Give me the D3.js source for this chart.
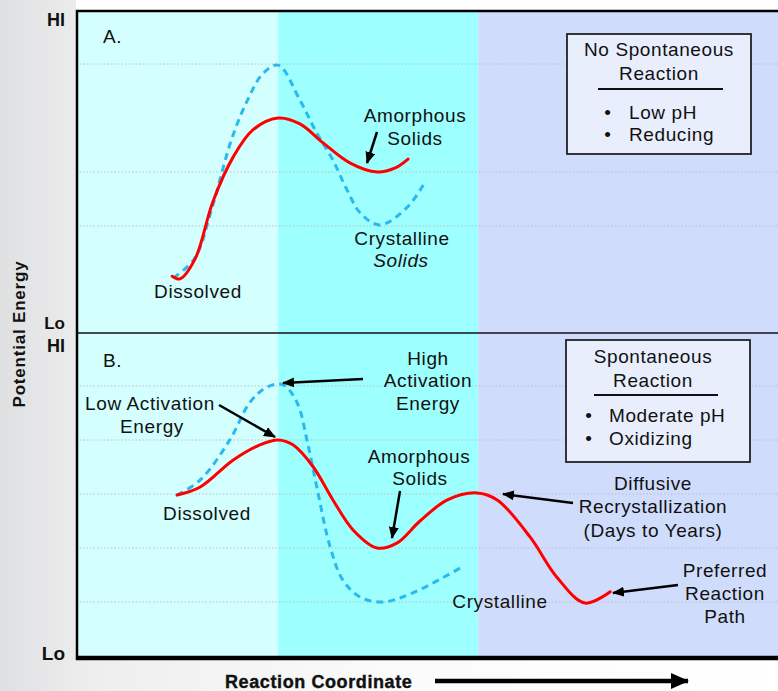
<!DOCTYPE html>
<html><head><meta charset="utf-8">
<script src="https://cdn.jsdelivr.net/npm/d3@7"></script>
<style>body{margin:0;background:#fff}svg{display:block}text{font-family:"Liberation Sans",Arial,sans-serif;fill:#111}</style>
</head><body>
<script>
// ---------- data ----------
const zoneBounds = [0, 28.8, 57.3, 100];            // reaction coordinate (0-100)
const zoneColors = ["#d4ffff", "#9dfffe", "#d0dcfc"];
const gridA = [2, 3, 5];                             // energy levels (0 = Lo, 6 = Hi)
const gridB = [1, 2, 3, 4, 5];
const yTickLabels = ["Lo", "HI"];

// Panel A – preferred (amorphous) path, red
const redAx = [13.7, 14.8, 17.0, 19.5, 22.4, 25.2, 28.8, 31.9, 35.2, 39.0, 42.9, 45.4, 47.3];
const redAy = [1.07, 1.02, 1.40, 2.45, 3.28, 3.78, 4.0, 3.89, 3.54, 3.17, 3.0, 3.07, 3.24];
// Panel A – crystalline path, blue dashed
const blueAx = [13.9, 16.9, 19.3, 22.2, 24.5, 26.6, 28.8, 31.9, 34.3, 36.6, 38.6, 40.5, 43.3, 47.2, 49.7];
const blueAy = [1.04, 1.40, 2.30, 3.62, 4.35, 4.82, 4.98, 4.33, 3.72, 3.22, 2.67, 2.24, 2.02, 2.35, 2.81];
// Panel B – red
const redBx = [14.4, 17.7, 22.4, 26.2, 28.8, 30.9, 33.8, 36.6, 39.5, 42.9, 45.7, 49.0, 52.9, 57.1, 60.0, 64.7, 68.5, 72.5, 76.1];
const redBy = [2.98, 3.13, 3.63, 3.91, 4.0, 3.91, 3.5, 2.89, 2.33, 2.0, 2.09, 2.5, 2.89, 3.02, 2.89, 2.2, 1.46, 0.98, 1.19];
// Panel B – blue dashed
const blueBx = [14.4, 17.7, 21.9, 24.8, 27.2, 29.5, 31.5, 32.9, 34.3, 36.2, 38.0, 40.5, 43.7, 48.0, 55.0];
const blueBy = [2.98, 3.26, 4.0, 4.7, 4.98, 5.02, 4.69, 4.0, 3.13, 2.02, 1.41, 1.09, 1.0, 1.17, 1.65];

// ---------- layout ----------
const W = 778, H = 691;
const L = 76, R = 778, TOP = 10, MID = 333, BOT = 656;
const svg = d3.select("body").append("svg").attr("width", W).attr("height", H);
const defs = svg.append("defs");
const bg = defs.append("linearGradient").attr("id", "bg").attr("x1", 0).attr("x2", 1).attr("y1", 0).attr("y2", 0);
bg.append("stop").attr("offset", "0").attr("stop-color", "#dfe0e2");
bg.append("stop").attr("offset", "0.12").attr("stop-color", "#eeeeee");
bg.append("stop").attr("offset", "0.5").attr("stop-color", "#fbfbfb");
bg.append("stop").attr("offset", "1").attr("stop-color", "#ffffff");
svg.append("rect").attr("width", W).attr("height", H).attr("fill", "url(#bg)");
svg.append("rect").attr("x", L).attr("y", 0).attr("width", W - L).attr("height", TOP).attr("fill", "#fff");

defs.append("marker").attr("id", "ah").attr("viewBox", "0 0 12 10").attr("refX", 11).attr("refY", 5)
  .attr("markerWidth", 12).attr("markerHeight", 10).attr("markerUnits", "userSpaceOnUse").attr("orient", "auto")
  .append("path").attr("d", "M0,0 L12,5 L0,10 Z").attr("fill", "#000");
defs.append("marker").attr("id", "ahBig").attr("viewBox", "0 0 18 16").attr("refX", 17).attr("refY", 8)
  .attr("markerWidth", 18).attr("markerHeight", 16).attr("markerUnits", "userSpaceOnUse").attr("orient", "auto")
  .append("path").attr("d", "M0,0 L18,8 L0,16 Z").attr("fill", "#000");

const x = d3.scaleLinear().domain([0, 100]).range([L, R]);
const yA = d3.scaleLinear().domain([0, 6]).range([334, TOP]);
const yB = d3.scaleLinear().domain([0, 6]).range([BOT, BOT - 324]);

function panel(y, y0, y1, grid, rx, ry, bx, by) {
  const g = svg.append("g");
  zoneColors.forEach((c, i) => {
    g.append("rect").attr("x", x(zoneBounds[i])).attr("y", y0)
      .attr("width", x(zoneBounds[i + 1]) - x(zoneBounds[i])).attr("height", y1 - y0).attr("fill", c);
  });
  g.selectAll(".grid").data(grid).enter().append("line")
    .attr("x1", L).attr("x2", R).attr("y1", d => y(d)).attr("y2", d => y(d))
    .attr("stroke", "#b9c0c8").attr("stroke-width", 1).attr("stroke-dasharray", "1.5,2");
  const line = d3.line().x(d => x(d[0])).y(d => y(d[1])).curve(d3.curveCatmullRom.alpha(0.5));
  g.append("path").attr("d", line(d3.zip(bx, by))).attr("fill", "none")
    .attr("stroke", "#2bb8ee").attr("stroke-width", 3).attr("stroke-dasharray", "7,5");
  g.append("path").attr("d", line(d3.zip(rx, ry))).attr("fill", "none")
    .attr("stroke", "#ff0000").attr("stroke-width", 3).attr("stroke-linecap", "round");
  return g;
}
panel(yA, TOP, MID, gridA, redAx, redAy, blueAx, blueAy);
panel(yB, MID, BOT, gridB, redBx, redBy, blueBx, blueBy);

// frame
svg.append("line").attr("x1", L).attr("x2", R).attr("y1", TOP + 1).attr("y2", TOP + 1).attr("stroke", "#000").attr("stroke-width", 2.5);
svg.append("line").attr("x1", L).attr("x2", R).attr("y1", MID).attr("y2", MID).attr("stroke", "#111").attr("stroke-width", 1.5);
svg.append("line").attr("x1", L + 1).attr("x2", L + 1).attr("y1", TOP).attr("y2", BOT + 4).attr("stroke", "#000").attr("stroke-width", 2.5);
svg.append("line").attr("x1", L).attr("x2", R).attr("y1", BOT + 2).attr("y2", BOT + 2).attr("stroke", "#000").attr("stroke-width", 4.5);

// axis labels
const tk = svg.append("g").attr("font-weight", "bold").attr("text-anchor", "end");
tk.append("text").attr("x", 65).attr("y", yA(6) + 16).attr("font-size", 18).text(yTickLabels[1]);
tk.append("text").attr("x", 65).attr("y", yA(0) - 5).attr("font-size", 17).text(yTickLabels[0]);
tk.append("text").attr("x", 65).attr("y", yB(6) + 20).attr("font-size", 18).text(yTickLabels[1]);
tk.append("text").attr("x", 65).attr("y", yB(0) + 4).attr("font-size", 19).text(yTickLabels[0]);
svg.append("text").attr("transform", "translate(25,334) rotate(-90)").attr("text-anchor", "middle")
  .attr("font-size", 17).attr("font-weight", "bold").attr("letter-spacing", 0.8).attr("fill", "#1a1a1a").text("Potential Energy");
svg.append("text").attr("x", 225).attr("y", 688).attr("font-size", 18).attr("font-weight", "bold")
  .attr("letter-spacing", 0.6).attr("stroke", "#111").attr("stroke-width", 0.4).text("Reaction Coordinate");
svg.append("line").attr("x1", 435).attr("x2", 688).attr("y1", 681).attr("y2", 681).attr("stroke", "#000")
  .attr("stroke-width", 4.5).attr("marker-end", "url(#ahBig)");

// annotations
const ann = svg.append("g").attr("font-size", 19).attr("letter-spacing", 0.6);
function txt(xp, yp, s, anchor = "middle", extra) {
  const t = ann.append("text").attr("x", xp).attr("y", yp).attr("text-anchor", anchor).text(s);
  if (extra) extra(t);
  return t;
}
function arrow(x1, y1, x2, y2) {
  ann.append("line").attr("x1", x1).attr("y1", y1).attr("x2", x2).attr("y2", y2)
    .attr("stroke", "#000").attr("stroke-width", 2.5).attr("marker-end", "url(#ah)");
}
txt(103, 43, "A.", "start");
txt(198, 298, "Dissolved");
txt(415, 122, "Amorphous");
txt(415, 145, "Solids");
arrow(377, 132, 367, 163);
txt(402, 245, "Crystalline");
txt(401, 267, "Solids", "middle", t => t.attr("font-style", "italic"));

txt(103, 367, "B.", "start");
txt(150, 410, "Low Activation");
txt(152, 433, "Energy");
arrow(219, 405, 275, 437);
txt(428, 365, "High");
txt(428, 387, "Activation");
txt(428, 410, "Energy");
arrow(363, 379, 283, 383);
txt(207, 520, "Dissolved");
txt(419, 463, "Amorphous");
txt(420, 485, "Solids");
arrow(400, 491, 392, 538);
txt(653, 490, "Diffusive");
txt(653, 513, "Recrystallization");
txt(653, 537, "(Days to Years)");
arrow(573, 503, 503, 494);
txt(500, 608, "Crystalline");
txt(725, 577, "Preferred");
txt(725, 600, "Reaction");
txt(725, 623, "Path");
arrow(678, 585, 613, 593);

// condition boxes
function box(x0, y0, x1, y1, l1, l2, ly, items, iy, bx, tx, cx) {
  ann.append("rect").attr("x", x0).attr("y", y0).attr("width", x1 - x0).attr("height", y1 - y0)
    .attr("fill", "#e9eefd").attr("stroke", "#222").attr("stroke-width", 1.8);
  txt(cx, l1[1], l1[0]);
  txt(cx, l2[1], l2[0]);
  ann.append("line").attr("x1", ly[0]).attr("x2", ly[1]).attr("y1", ly[2]).attr("y2", ly[2]).attr("stroke", "#111").attr("stroke-width", 1.8);
  items.forEach((s, i) => {
    txt(bx, iy[i], "•");
    txt(tx, iy[i], s, "start");
  });
}
box(567, 34, 751, 154, ["No Spontaneous", 56], ["Reaction", 80], [598, 723, 89], ["Low pH", "Reducing"], [119, 141], 608, 629, 659);
box(566, 340, 750, 462, ["Spontaneous", 363], ["Reaction", 387], [594, 718, 395], ["Moderate pH", "Oxidizing"], [422, 445], 589, 609, 653);
</script>
</body></html>
